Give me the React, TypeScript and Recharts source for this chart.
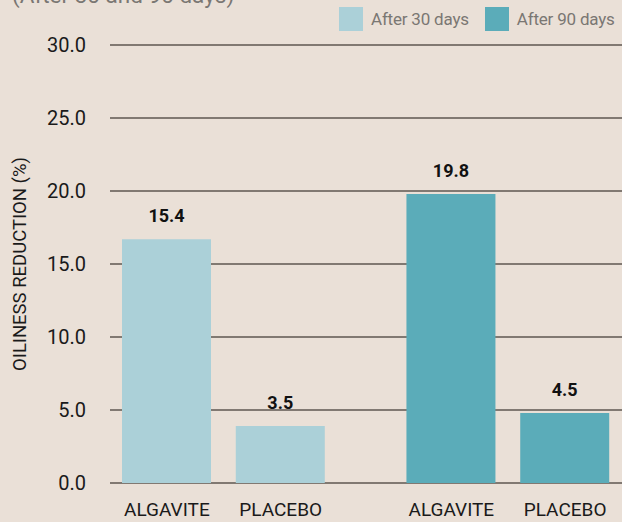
import { Bar, BarChart, CartesianGrid, Cell, LabelList, Legend, XAxis, YAxis } from "recharts";

const BG = "#eae0d7";
const GRID = "#5e5750";
const FONT = "Roboto, 'Liberation Sans', sans-serif";

// four bars: 30-day pair then 90-day pair, with a wider gap between the pairs
const products = ["ALGAVITE", "PLACEBO", "ALGAVITE", "PLACEBO"];
const slots = [0, 1, 2.5, 3.5];
const groups = ["After 30 days", "After 30 days", "After 90 days", "After 90 days"];
const heights = [16.7, 3.9, 19.8, 4.8];
const valueLabels = ["15.4", "3.5", "19.8", "4.5"];
const yTicks = [0, 5, 10, 15, 20, 25, 30];

const GROUP_COLORS: Record<string, string> = {
  "After 30 days": "#abd0d8",
  "After 90 days": "#5bacb9",
};
const legendItems = ["After 30 days", "After 90 days"];

const data = slots.map((x, i) => ({
  x,
  value: heights[i],
  label: valueLabels[i],
  group: groups[i],
  product: products[i],
}));

const productAt = (v: number) => products[slots.indexOf(v)] ?? "";

function LegendBox() {
  return (
    <div style={{ display: "flex", alignItems: "center", fontFamily: FONT }}>
      {legendItems.map((g, i) => (
        <div key={g} style={{ display: "flex", alignItems: "center", marginLeft: i === 0 ? 0 : 16 }}>
          <div style={{ width: 24, height: 24, background: GROUP_COLORS[g] }} />
          <span style={{ marginLeft: 8, fontSize: 17, color: "#7a7773", letterSpacing: -0.2 }}>{g}</span>
        </div>
      ))}
    </div>
  );
}

function ValueLabel(props: any) {
  const { x, y, width, value } = props;
  return (
    <text
      x={Number(x) + Number(width) / 2}
      y={Number(y) - 17}
      textAnchor="middle"
      fontFamily={FONT}
      fontWeight={700}
      fontSize={18}
      fill="#111"
    >
      {value}
    </text>
  );
}

function AxisTitle(props: any) {
  const { viewBox } = props;
  const cy = viewBox.y + viewBox.height / 2;
  return (
    <text
      x={20}
      y={cy}
      transform={`rotate(-90, 20, ${cy})`}
      textAnchor="middle"
      dominantBaseline="central"
      fontFamily={FONT}
      fontSize={18.5}
      fill="#1a1a1a"
    >
      OILINESS REDUCTION (%)
    </text>
  );
}

export default function App() {
  return (
    <div
      style={{
        position: "absolute",
        left: 0,
        top: 0,
        width: 622,
        height: 522,
        background: BG,
        overflow: "hidden",
      }}
    >
      {/* subtitle sits mostly above the frame, as in the source crop */}
      <div
        style={{
          position: "absolute",
          left: 12,
          top: -16,
          fontFamily: FONT,
          fontSize: 22.5,
          lineHeight: "22px",
          color: "#7a7773",
          whiteSpace: "nowrap",
        }}
      >
        (After 30 and 90 days)
      </div>
      <BarChart width={622} height={522} data={data} margin={{ top: 45, right: 0, left: 0, bottom: 9 }}>
        <CartesianGrid horizontal vertical={false} stroke={GRID} strokeWidth={1.5} />
        <XAxis
          dataKey="x"
          type="number"
          domain={[-0.5, 4]}
          ticks={slots}
          tickFormatter={productAt}
          axisLine={false}
          tickLine={false}
          tickMargin={14}
          height={30}
          tick={{ fontFamily: FONT, fontSize: 19, fill: "#1a1a1a" }}
        />
        <YAxis
          domain={[0, 30]}
          ticks={yTicks}
          width={110}
          axisLine={false}
          tickLine={false}
          tickMargin={18}
          tickFormatter={(v: number) => v.toFixed(1)}
          tick={{ fontFamily: FONT, fontSize: 20, fill: "#1a1a1a" }}
          label={{ content: AxisTitle }}
        />
        <Legend
          layout="horizontal"
          verticalAlign="middle"
          align="center"
          content={LegendBox}
          wrapperStyle={{ top: 7, left: 339, width: "auto" }}
        />
        <Bar dataKey="value" barSize={89} isAnimationActive={false}>
          {data.map((d, i) => (
            <Cell key={i} fill={GROUP_COLORS[d.group]} />
          ))}
          <LabelList dataKey="label" content={ValueLabel} />
        </Bar>
      </BarChart>
    </div>
  );
}
